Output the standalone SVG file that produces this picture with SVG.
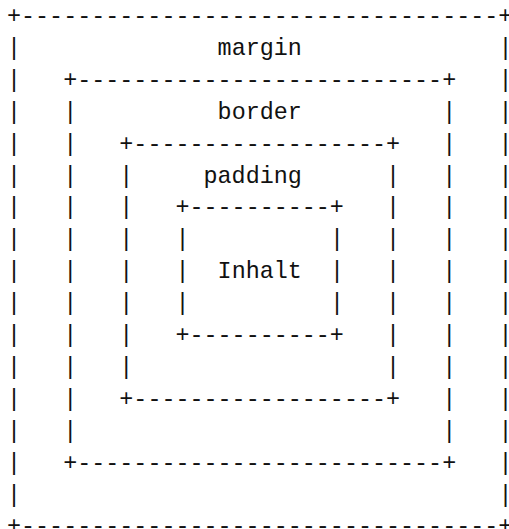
<svg xmlns="http://www.w3.org/2000/svg" width="509" height="529" viewBox="0 0 509 529">
<style>
  text { font-family: "Liberation Mono", "DejaVu Sans Mono", monospace; font-size: 23.4px; fill: #111; white-space: pre; }
</style>
<rect width="509" height="529" fill="#fff"/>
<g id="margin">
  <text x="7" y="23">+----------------------------------+</text>
  <text x="7" y="533.4">+----------------------------------+</text>
  <text>
    <tspan x="7" y="54.9">|</tspan><tspan x="498.4" y="54.9">|</tspan>
    <tspan x="7" y="86.8">|</tspan><tspan x="498.4" y="86.8">|</tspan>
    <tspan x="7" y="118.7">|</tspan><tspan x="498.4" y="118.7">|</tspan>
    <tspan x="7" y="150.6">|</tspan><tspan x="498.4" y="150.6">|</tspan>
    <tspan x="7" y="182.5">|</tspan><tspan x="498.4" y="182.5">|</tspan>
    <tspan x="7" y="214.4">|</tspan><tspan x="498.4" y="214.4">|</tspan>
    <tspan x="7" y="246.3">|</tspan><tspan x="498.4" y="246.3">|</tspan>
    <tspan x="7" y="278.2">|</tspan><tspan x="498.4" y="278.2">|</tspan>
    <tspan x="7" y="310.1">|</tspan><tspan x="498.4" y="310.1">|</tspan>
    <tspan x="7" y="342">|</tspan><tspan x="498.4" y="342">|</tspan>
    <tspan x="7" y="373.9">|</tspan><tspan x="498.4" y="373.9">|</tspan>
    <tspan x="7" y="405.8">|</tspan><tspan x="498.4" y="405.8">|</tspan>
    <tspan x="7" y="437.7">|</tspan><tspan x="498.4" y="437.7">|</tspan>
    <tspan x="7" y="469.6">|</tspan><tspan x="498.4" y="469.6">|</tspan>
    <tspan x="7" y="501.5">|</tspan><tspan x="498.4" y="501.5">|</tspan>
  </text>
  <text x="217.6" y="54.9">margin</text>
</g>
<g id="border">
  <text x="63.16" y="86.8">+--------------------------+</text>
  <text x="63.16" y="469.6">+--------------------------+</text>
  <text>
    <tspan x="63.16" y="118.7">|</tspan><tspan x="442.24" y="118.7">|</tspan>
    <tspan x="63.16" y="150.6">|</tspan><tspan x="442.24" y="150.6">|</tspan>
    <tspan x="63.16" y="182.5">|</tspan><tspan x="442.24" y="182.5">|</tspan>
    <tspan x="63.16" y="214.4">|</tspan><tspan x="442.24" y="214.4">|</tspan>
    <tspan x="63.16" y="246.3">|</tspan><tspan x="442.24" y="246.3">|</tspan>
    <tspan x="63.16" y="278.2">|</tspan><tspan x="442.24" y="278.2">|</tspan>
    <tspan x="63.16" y="310.1">|</tspan><tspan x="442.24" y="310.1">|</tspan>
    <tspan x="63.16" y="342">|</tspan><tspan x="442.24" y="342">|</tspan>
    <tspan x="63.16" y="373.9">|</tspan><tspan x="442.24" y="373.9">|</tspan>
    <tspan x="63.16" y="405.8">|</tspan><tspan x="442.24" y="405.8">|</tspan>
    <tspan x="63.16" y="437.7">|</tspan><tspan x="442.24" y="437.7">|</tspan>
  </text>
  <text x="217.6" y="118.7">border</text>
</g>
<g id="padding">
  <text x="119.32" y="150.6">+------------------+</text>
  <text x="119.32" y="405.8">+------------------+</text>
  <text>
    <tspan x="119.32" y="182.5">|</tspan><tspan x="386.08" y="182.5">|</tspan>
    <tspan x="119.32" y="214.4">|</tspan><tspan x="386.08" y="214.4">|</tspan>
    <tspan x="119.32" y="246.3">|</tspan><tspan x="386.08" y="246.3">|</tspan>
    <tspan x="119.32" y="278.2">|</tspan><tspan x="386.08" y="278.2">|</tspan>
    <tspan x="119.32" y="310.1">|</tspan><tspan x="386.08" y="310.1">|</tspan>
    <tspan x="119.32" y="342">|</tspan><tspan x="386.08" y="342">|</tspan>
    <tspan x="119.32" y="373.9">|</tspan><tspan x="386.08" y="373.9">|</tspan>
  </text>
  <text x="203.56" y="182.5">padding</text>
</g>
<g id="inhalt">
  <text x="175.48" y="214.4">+----------+</text>
  <text x="175.48" y="342">+----------+</text>
  <text>
    <tspan x="175.48" y="246.3">|</tspan><tspan x="329.92" y="246.3">|</tspan>
    <tspan x="175.48" y="278.2">|</tspan><tspan x="329.92" y="278.2">|</tspan>
    <tspan x="175.48" y="310.1">|</tspan><tspan x="329.92" y="310.1">|</tspan>
  </text>
  <text x="217.6" y="278.2">Inhalt</text>
</g>
</svg>
